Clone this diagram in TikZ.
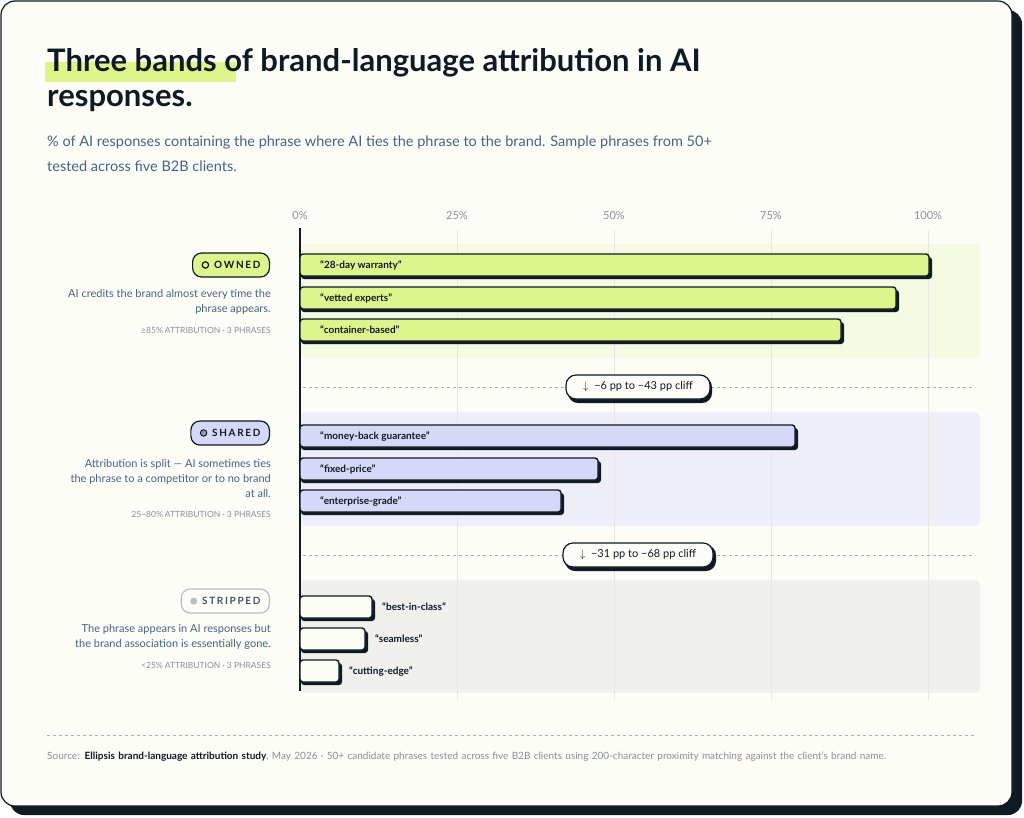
\documentclass[tikz,border=0pt]{standalone}
\usepackage{fontspec}
\setmainfont{Lato}
\newfontfamily\latob{Lato Bold}
\definecolor{ink}{HTML}{0F1A24}
\definecolor{paper}{HTML}{FDFDF8}
\definecolor{lime}{HTML}{DDF58C}
\definecolor{limebg}{HTML}{F5FAE3}
\definecolor{lav}{HTML}{D6D8F7}
\definecolor{lavbg}{HTML}{EFEFFA}
\definecolor{grey}{HTML}{F0F0EC}
\definecolor{slate}{HTML}{4A6283}
\definecolor{muted}{HTML}{8A8F96}
\definecolor{gridc}{HTML}{E6E6E2}
\tikzset{
 barbox/.style={draw=ink,line width=1.4pt,rounded corners=3pt},
 shadowbar/.style={fill=ink,rounded corners=3pt},
 barlbl/.style={anchor=west,font=\fontsize{10}{12}\selectfont\bfseries,text=ink,inner sep=0},
 tick/.style={font=\fontsize{11}{13}\selectfont,text=muted},
 desc/.style={anchor=east,align=right,font=\fontsize{11}{15}\selectfont,text=slate,inner sep=0},
 meta/.style={anchor=east,font=\fontsize{8.5}{10}\selectfont,text=muted,inner sep=0},
 pill/.style={draw=ink,line width=1.2pt,rounded corners=9pt,minimum height=24pt,inner xsep=9pt,font=\fontsize{10}{12}\selectfont\bfseries,text=ink},
 cliff/.style={draw=ink,line width=1.2pt,fill=paper,rounded corners=10pt,minimum height=24pt,inner xsep=10pt,font=\fontsize{11}{13}\selectfont,text=ink},
}
\begin{document}
\begin{tikzpicture}[x=1pt,y=-1pt]
\useasboundingbox (0,0) rectangle (1024,817);
% card
\fill[ink,rounded corners=14pt] (10,10) rectangle (1022,815);
\fill[paper,draw=ink,line width=1.2pt,rounded corners=14pt] (1,1) rectangle (1012,806);
% title
\fill[lime] (45,62) rectangle (236,82);
\node[anchor=west,inner sep=0,font=\fontsize{31}{38}\selectfont\latob,text=ink] (t1) at (47,63) {Three bands of brand-language attribution in AI};
\node[anchor=west,inner sep=0,font=\fontsize{31}{38}\selectfont\latob,text=ink] (t2) at (47,101) {responses.};
\node[anchor=north west,align=left,inner sep=0,font=\fontsize{14.5}{25}\selectfont,text=slate] (sub) at (47,136) {\% of AI responses containing the phrase where AI ties the phrase to the brand. Sample phrases from 50+\\tested across five B2B clients.};
% bands
\fill[limebg,rounded corners=5pt] (300,244) rectangle (980,358);
\fill[lavbg,rounded corners=5pt] (300,412) rectangle (980,526);
\fill[grey,rounded corners=5pt] (300,580) rectangle (980,693);
% grid
\foreach \p/\l in {0/0\%,25/25\%,50/50\%,75/75\%,100/100\%}{
  \pgfmathsetmacro\xx{300+6.28*\p}
  \ifnum\p>0 \draw[gridc,line width=0.7pt] (\xx,230) -- (\xx,700);\fi
  \node[tick] (tk\p) at (\xx,216) {\l};
}
\draw[ink,line width=1.8pt] (300,228) -- (300,691);
% bars
\foreach \y/\e/\c/\t/\n in {254/929/lime/``28-day warranty''/a1,287/896/lime/``vetted experts''/a2,319/841/lime/``container-based''/a3,425/795/lav/``money-back guarantee''/b1,458/598/lav/``fixed-price''/b2,490/561/lav/``enterprise-grade''/b3}{
  \fill[shadowbar] (301,\y+3) rectangle (\e+3,\y+25);
  \draw[barbox,fill=\c] (300,\y) rectangle (\e,\y+22);
  \node[barlbl] (\n) at (320,\y+11) {\t};
}
\foreach \y/\e/\t/\n in {596/372/``best-in-class''/c1,628/365/``seamless''/c2,660/339/``cutting-edge''/c3}{
  \fill[shadowbar] (301,\y+3) rectangle (\e+3,\y+25);
  \draw[barbox,fill=paper] (300,\y) rectangle (\e,\y+22);
  \node[barlbl] (\n) at (\e+10,\y+11) {\t};
}
% cliffs
\draw[muted!70,dashed,line width=0.6pt] (303,387) -- (975,387);
\draw[muted!70,dashed,line width=0.6pt] (303,555) -- (975,555);
\fill[ink,rounded corners=10pt] (568,377) rectangle (712,403);
\node[cliff,minimum width=144pt] (k1) at (638,387) {$\downarrow$\ \ {−}6 pp to {−}43 pp cliff};
\fill[ink,rounded corners=10pt] (565,545) rectangle (716,571);
\node[cliff,minimum width=150pt] (k2) at (638,555) {$\downarrow$\ \ {−}31 pp to {−}68 pp cliff};
% left labels
\node[pill,fill=lime,anchor=east] (p1) at (270,265) {\tikz\draw[ink,line width=1.2pt] (0,0) circle (3.2pt);\ \ O\,W\,N\,E\,D};
\node[desc] (d1) at (271,302) {AI credits the brand almost every time the\\phrase appears.};
\node[meta] (m1) at (271,330) {≥85\% ATTRIBUTION · 3 PHRASES};
\node[pill,fill=lav,anchor=east] (p2) at (270,433) {\tikz\draw[ink,fill=lav!50!slate,line width=1pt] (0,0) circle (3.2pt);\ \ S\,H\,A\,R\,E\,D};
\node[desc] (d2) at (271,478) {Attribution is split — AI sometimes ties\\the phrase to a competitor or to no brand\\at all.};
\node[meta] (m2) at (271,514) {25–80\% ATTRIBUTION · 3 PHRASES};
\node[pill,fill=paper,draw=muted!60,text=slate!80!ink,anchor=east] (p3) at (270,601) {\tikz\fill[muted!60] (0,0) circle (3.5pt);\ \ S\,T\,R\,I\,P\,P\,E\,D};
\node[desc] (d3) at (271,637) {The phrase appears in AI responses but\\the brand association is essentially gone.};
\node[meta] (m3) at (271,665) {<25\% ATTRIBUTION · 3 PHRASES};
% footer
\draw[muted!70,dashed,line width=0.6pt] (47,735) -- (975,735);
\node[anchor=north west,align=left,inner sep=0,font=\fontsize{10}{18}\selectfont,text=muted,text width=930pt] (src) at (47,752) {Source: {\color{ink}\bfseries Ellipsis brand-language attribution study}, May 2026 · 50+ candidate phrases tested across five B2B clients using 200-character proximity matching against the client's brand name.};
\end{tikzpicture}
\end{document}
